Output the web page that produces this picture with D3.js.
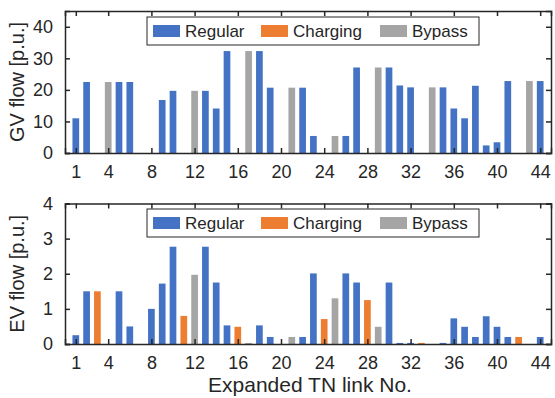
<!DOCTYPE html>
<html>
<head>
<meta charset="utf-8">
<script src="https://cdn.jsdelivr.net/npm/d3@7"></script>
<style>
  html, body { margin: 0; padding: 0; background: #fff; }
  svg text { font-family: Arial, "Liberation Sans", sans-serif; fill: #262626; }
</style>
</head>
<body>
<svg id="chart" width="555" height="398"></svg>
<script>
// Expanded transport-network links 1..44
const linkNo = d3.range(1, 45);

// Link category of each link: R = regular, C = charging, B = bypass
const linkType = [
  "R","R","C","B","R","R","R","R","R","R",
  "C","B","R","R","R","C","B","R","R","R",
  "B","R","R","C","B","R","R","C","B","R",
  "R","R","C","B","R","R","R","R","R","R",
  "R","C","B","R"
];

// Gasoline-vehicle flow on each link [p.u.]
const gvFlow = [
  11.0, 22.5, 0, 22.5, 22.5, 22.5, 0, 0, 16.8, 19.7,
  0, 19.7, 19.7, 14.1, 32.3, 0, 32.3, 32.3, 20.7, 0,
  20.7, 20.7, 5.4, 0, 5.4, 5.4, 27.1, 0, 27.1, 27.1,
  21.4, 20.8, 0, 20.8, 20.8, 14.1, 11.0, 21.3, 2.4, 3.4,
  22.8, 0, 22.8, 22.8
];

// Electric-vehicle flow on each link [p.u.]
const evFlow = [
  0.25, 1.5, 1.5, 0, 1.5, 0.5, 0, 1.0, 1.72, 2.77,
  0.8, 1.97, 2.77, 1.75, 0.53, 0.49, 0.03, 0.53, 0.2, 0,
  0.2, 0.2, 2.01, 0.71, 1.3, 2.01, 1.75, 1.25, 0.49, 1.75,
  0.03, 0.03, 0.03, 0, 0.03, 0.73, 0.49, 0.2, 0.79, 0.49,
  0.2, 0.2, 0, 0.2
];

const xTicks = [1, 4, 8, 12, 16, 20, 24, 28, 32, 36, 40, 44];
const gvTicks = [0, 10, 20, 30, 40];
const evTicks = [0, 1, 2, 3, 4];

const seriesNames = ["Regular", "Charging", "Bypass"];
const seriesKeys = ["R", "C", "B"];
const colors = { R: "#4472C4", C: "#ED7D31", B: "#A5A5A5" };
const axisColor = "#262626";

const svg = d3.select("#chart");
const left = 65, right = 551;
const x = d3.scaleLinear().domain([0, 45]).range([left, right]);
const barW = (x(1) - x(0)) * 0.62;

function panel(opts) {
  const { top, bottom, yMax, ticks, values, title, legendY } = opts;
  const y = d3.scaleLinear().domain([0, yMax]).range([bottom, top]);
  const g = svg.append("g");

  // bars
  g.selectAll("rect.bar")
    .data(linkNo.map((n, i) => ({ n, v: values[i], t: linkType[i] })).filter(d => d.v > 0))
    .join("rect")
    .attr("class", "bar")
    .attr("x", d => x(d.n) - barW / 2)
    .attr("width", barW)
    .attr("y", d => y(d.v))
    .attr("height", d => Math.max(1, y(0) - y(d.v)))
    .attr("fill", d => colors[d.t]);

  // axes with inward ticks on all four sides
  const ax = [
    g.append("g").attr("transform", `translate(0,${bottom})`)
      .call(d3.axisBottom(x).tickValues(xTicks).tickSize(-5).tickPadding(12).tickFormat(d3.format("d"))),
    g.append("g").attr("transform", `translate(0,${top})`)
      .call(d3.axisTop(x).tickValues(xTicks).tickSize(-5).tickFormat("")),
    g.append("g").attr("transform", `translate(${left},0)`)
      .call(d3.axisLeft(y).tickValues(ticks).tickSize(-5).tickPadding(12).tickFormat(d3.format("d"))),
    g.append("g").attr("transform", `translate(${right},0)`)
      .call(d3.axisRight(y).tickValues(ticks).tickSize(-5).tickFormat(""))
  ];
  ax.forEach(a => {
    a.selectAll("path.domain").attr("stroke", axisColor).attr("stroke-width", 1.5);
    a.selectAll("line").attr("stroke", axisColor).attr("stroke-width", 1.5);
    a.selectAll("text").style("font-size", "18px").attr("fill", axisColor);
  });

  // y-axis title
  g.append("text")
    .attr("transform", `translate(24,${(top + bottom) / 2}) rotate(-90)`)
    .attr("text-anchor", "middle")
    .style("font-size", "20px")
    .text(title);

  // legend
  const lg = g.append("g").attr("transform", `translate(147,${legendY})`);
  lg.append("rect").attr("width", 332).attr("height", 28)
    .attr("fill", "#fff").attr("stroke", axisColor).attr("stroke-width", 1);
  const offs = [6, 114, 233];
  seriesKeys.forEach((k, i) => {
    lg.append("rect").attr("x", offs[i]).attr("y", 8).attr("width", 27).attr("height", 12)
      .attr("fill", colors[k]);
    lg.append("text").attr("x", offs[i] + 32).attr("y", 20)
      .style("font-size", "17px").text(seriesNames[i]);
  });
}

panel({ top: 11, bottom: 153, yMax: 45, ticks: gvTicks, values: gvFlow,
        title: "GV flow [p.u.]", legendY: 17 });
panel({ top: 203.5, bottom: 344, yMax: 4, ticks: evTicks, values: evFlow,
        title: "EV flow [p.u.]", legendY: 209 });

svg.append("text")
  .attr("x", (left + right) / 2 + 2).attr("y", 392)
  .attr("text-anchor", "middle")
  .style("font-size", "21px")
  .text("Expanded TN link No.");
</script>
</body>
</html>
